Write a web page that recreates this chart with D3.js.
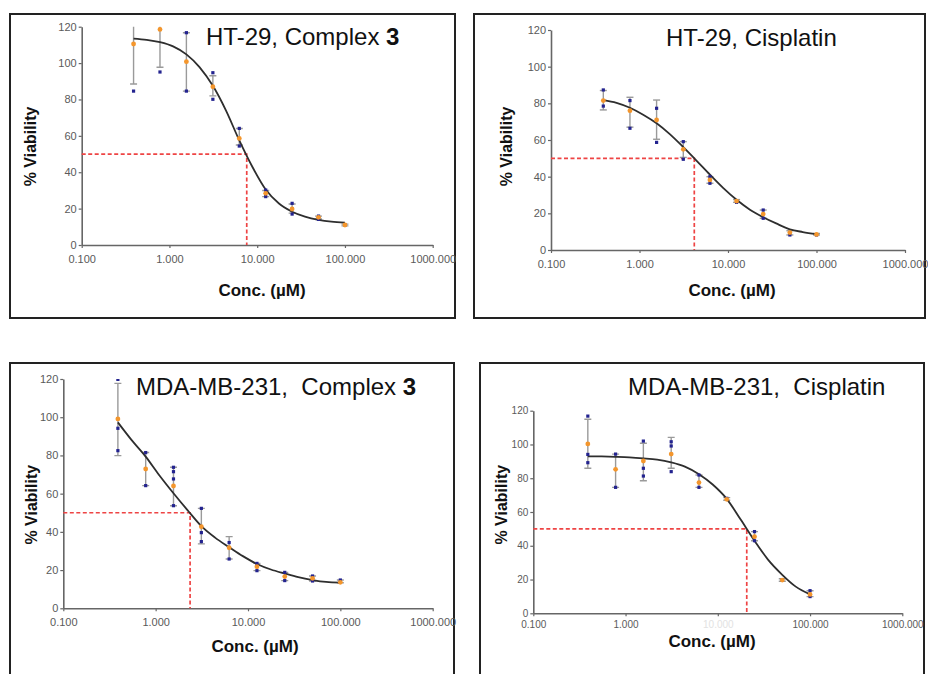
<!DOCTYPE html>
<html>
<head>
<meta charset="utf-8">
<script src="https://cdn.jsdelivr.net/npm/d3@7"></script>
<style>
  html, body { margin: 0; padding: 0; background: #fff; }
  svg { display: block; font-family: "Liberation Sans", Arial, sans-serif; }
</style>
</head>
<body>
<svg id="chart" width="928" height="674"></svg>
<script>
// ---------- shared data ----------
const concentrations = [0.39, 0.78, 1.56, 3.125, 6.25, 12.5, 25, 50, 100];
const fitConc = [0.39, 0.55, 0.78, 1.1, 1.56, 2.2, 3.125, 4.4, 6.25, 8.8, 12.5, 17.7, 25, 35, 50, 70, 100];
const xTicks = [0.1, 1, 10, 100, 1000];
const xTickLabels = ["0.100", "1.000", "10.000", "100.000", "1000.000"];
const yTicks = [0, 20, 40, 60, 80, 100, 120];
const yLabel = "% Viability";
const xLabel = "Conc. (\u00B5M)";

// ---------- HT-29, Complex 3 ----------
const meanA = [110.5, 118.5, 100.8, 87.0, 58.6, 28.4, 19.8, 15.2, 11.0];
const repsA = [[84.6], [95.1], [116.7, 84.6], [94.7, 80.1], [64.1, 54.4], [30.2, 26.6], [22.9, 17.0], [15.9, 14.1], [11.0]];
const errLoA = [88.5, 97.7, 84.6, 82.0, 55.0, 26.6, 17.5, 14.3, 10.5];
const errHiA = [132, 139, 116.7, 93.0, 64.0, 30.0, 22.5, 15.9, 11.5];
const curveA = [113.5, 112.8, 111.5, 109.2, 104.8, 97.8, 87.5, 74.0, 57.5, 43.0, 30.5, 22.8, 18.3, 15.6, 13.8, 12.8, 12.3];
const ic50A = 7.6;

// ---------- HT-29, Cisplatin ----------
const meanB = [81.5, 76.0, 70.9, 54.9, 38.2, 26.7, 19.6, 9.5, 8.5];
const repsB = [[87.3, 78.5], [81.5, 66.4], [77.3, 58.7], [59.1, 49.5], [40.0, 36.4], [26.0], [21.8, 17.3], [8.2], [8.2]];
const errLoB = [76.4, 67.0, 60.4, 50.5, 36.4, 26.0, 17.3, 8.2, 8.2];
const errHiB = [87.0, 83.3, 81.8, 59.1, 40.0, 27.5, 21.8, 10.5, 9.0];
const curveB = [81.8, 80.3, 77.6, 73.8, 69.1, 63.2, 56.1, 48.8, 41.1, 33.9, 27.4, 22.0, 17.9, 14.5, 11.3, 9.8, 8.6];
const ic50B = 4.16;

// ---------- MDA-MB-231, Complex 3 ----------
const meanC = [99.1, 72.9, 64.0, 42.7, 31.7, 21.8, 16.6, 15.7, 13.6];
const repsC = [[119.8, 94.2, 82.5], [81.5, 64.2], [73.8, 71.5, 67.7, 53.7], [52.3, 39.6, 34.9], [34.4, 25.8], [23.5, 19.7], [18.8, 14.5], [16.9, 14.3], [14.8, 13.6]];
const errLoC = [79.9, 64.2, 53.7, 33.7, 25.8, 19.7, 14.5, 14.3, 13.4];
const errHiC = [117.7, 81.5, 73.8, 52.3, 37.5, 23.5, 18.8, 16.9, 14.8];
const curveC = [97.3, 88.0, 79.4, 69.5, 60.2, 51.5, 43.0, 37.0, 32.0, 27.3, 23.2, 20.3, 18.2, 16.3, 14.8, 13.8, 13.4];
const ic50C = 2.36;

// ---------- MDA-MB-231, Cisplatin ----------
const meanD = [100.3, 85.3, 90.2, 94.3, 77.4, 67.5, 45.4, 19.7, 11.2];
const repsD = [[116.8, 94.1, 89.2], [94.3, 74.6], [102.0, 85.9, 81.3], [101.6, 99.1, 83.9], [81.9, 74.6], [68.1], [48.4, 43.0], [19.7], [13.4, 9.9]];
const errLoD = [85.9, 74.6, 78.5, 85.9, 74.6, 67.0, 43.0, 19.0, 9.9];
const errHiD = [114.9, 94.3, 100.7, 104.2, 81.9, 68.5, 48.4, 20.5, 13.4];
const curveD = [93.0, 92.9, 92.7, 92.4, 91.8, 91.0, 89.4, 86.9, 82.4, 76.3, 67.8, 55.5, 43.0, 31.8, 22.8, 15.8, 11.2];
const ic50D = 20.6;

// ---------- layout (page pixels) ----------
const panels = [
  { title: ["HT-29, Complex ", "3"], box: [10, 14, 445, 304],
    x: [81.7, 432.7], y: [245, 26.7], titleX: 206, titleY: 45,
    yLab: [30, 146.5], xLab: [262, 296], tickFont: 11, xPad: 7,
    mean: meanA, reps: repsA, lo: errLoA, hi: errHiA, curve: curveA, ic50: ic50A },
  { title: ["HT-29, Cisplatin"], box: [474, 14, 451, 304],
    x: [551, 905], y: [250, 30], titleX: 666, titleY: 46,
    yLab: [506.7, 146.5], xLab: [732, 296], tickFont: 11, xPad: 7,
    mean: meanB, reps: repsB, lo: errLoB, hi: errHiB, curve: curveB, ic50: ic50B },
  { title: ["MDA-MB-231,\u00A0 Complex ", "3"], box: [10, 363, 444, 340],
    x: [63.3, 432.7], y: [608.3, 379], titleX: 136, titleY: 395,
    yLab: [31.7, 504.7], xLab: [255, 651.7], tickFont: 11, xPad: 7,
    mean: meanC, reps: repsC, lo: errLoC, hi: errHiC, curve: curveC, ic50: ic50C },
  { title: ["MDA-MB-231,\u00A0 Cisplatin"], box: [480, 363, 444, 340],
    x: [533.3, 902.3], y: [613.3, 410.7], titleX: 628, titleY: 395,
    yLab: [501.7, 504.7], xLab: [712, 646.7], tickFont: 10, xPad: 5, faintTick: 10,
    mean: meanD, reps: repsD, lo: errLoD, hi: errHiD, curve: curveD, ic50: ic50D }
];

const svg = d3.select("#chart");
const defs = svg.append("defs");

panels.forEach((p, i) => {
  const g = svg.append("g");
  const xs = d3.scaleLog().domain([0.1, 1000]).range(p.x);
  const ys = d3.scaleLinear().domain([0, 120]).range(p.y);

  // frame
  g.append("rect")
    .attr("x", p.box[0]).attr("y", p.box[1])
    .attr("width", p.box[2]).attr("height", p.box[3])
    .attr("fill", "none").attr("stroke", "#222").attr("stroke-width", 2);

  // clip to plotting area
  const clipId = "clip" + i;
  defs.append("clipPath").attr("id", clipId)
    .append("rect")
    .attr("x", p.x[0] - 10).attr("y", p.y[1])
    .attr("width", p.x[1] - p.x[0] + 20).attr("height", p.y[0] - p.y[1] + 2);

  // axes
  const yAxis = d3.axisLeft(ys).tickValues(yTicks).tickSize(3).tickSizeOuter(0).tickPadding(2);
  const xAxis = d3.axisBottom(xs).tickValues(xTicks)
    .tickFormat((d, k) => xTickLabels[k]).tickSize(3).tickSizeOuter(0).tickPadding(p.xPad);

  const ya = g.append("g").attr("transform", `translate(${p.x[0]},0)`).call(yAxis);
  const xa = g.append("g").attr("transform", `translate(0,${p.y[0]})`).call(xAxis);
  [ya, xa].forEach(a => {
    a.select(".domain").attr("stroke", "#666").attr("stroke-width", 1.6);
    a.selectAll(".tick line").attr("stroke", "#666").attr("stroke-width", 1.2);
    a.selectAll(".tick text").attr("fill", "#5a5a5a")
      .attr("font-size", p.tickFont).attr("font-family", "\"Liberation Sans\", Arial, sans-serif");
  });
  if (p.faintTick) {
    xa.selectAll(".tick").filter(d => d === p.faintTick).select("text").attr("fill", "#e2e2e2");
  }

  // IC50 guide lines
  g.append("path")
    .attr("d", `M${xs(0.1)},${ys(50)}H${xs(p.ic50)}V${ys(0)}`)
    .attr("fill", "none").attr("stroke", "#ee4444").attr("stroke-width", 1.7)
    .attr("stroke-dasharray", "4,2.5");

  const plot = g.append("g").attr("clip-path", `url(#${clipId})`);

  // error bars
  const cap = 3.5;
  concentrations.forEach((c, k) => {
    const cx = xs(c);
    const bar = plot.append("g").attr("stroke", "#9a9a9a").attr("stroke-width", 1.4);
    bar.append("line").attr("x1", cx).attr("x2", cx).attr("y1", ys(p.lo[k])).attr("y2", ys(p.hi[k]));
    bar.append("line").attr("x1", cx - cap).attr("x2", cx + cap).attr("y1", ys(p.lo[k])).attr("y2", ys(p.lo[k]));
    bar.append("line").attr("x1", cx - cap).attr("x2", cx + cap).attr("y1", ys(p.hi[k])).attr("y2", ys(p.hi[k]));
  });

  // fitted curve
  const line = d3.line()
    .x((d, k) => xs(fitConc[k]))
    .y(d => ys(d))
    .curve(d3.curveMonotoneX);
  plot.append("path").datum(p.curve)
    .attr("d", line)
    .attr("fill", "none").attr("stroke", "#2e2e2e").attr("stroke-width", 1.8);

  // replicate points (blue)
  concentrations.forEach((c, k) => {
    p.reps[k].forEach(v => {
      plot.append("rect")
        .attr("x", xs(c) - 1.6).attr("y", ys(v) - 1.6)
        .attr("width", 3.2).attr("height", 3.2)
        .attr("fill", "#23238f");
    });
  });

  // mean points (orange)
  plot.selectAll("circle.mean").data(p.mean).enter().append("circle")
    .attr("class", "mean")
    .attr("cx", (d, k) => xs(concentrations[k]))
    .attr("cy", d => ys(d))
    .attr("r", 2.4)
    .attr("fill", "#f4962c");

  // title
  const t = g.append("text")
    .attr("x", p.titleX).attr("y", p.titleY)
    .attr("font-size", 24).attr("fill", "#111");
  t.append("tspan").text(p.title[0]);
  if (p.title[1]) t.append("tspan").attr("font-weight", "bold").text(p.title[1]);

  // axis titles
  g.append("text")
    .attr("transform", `translate(${p.yLab[0]},${p.yLab[1]}) rotate(-90)`)
    .attr("text-anchor", "middle").attr("dominant-baseline", "central")
    .attr("font-size", 16).attr("font-weight", "bold").attr("fill", "#111")
    .text(yLabel);
  g.append("text")
    .attr("x", p.xLab[0]).attr("y", p.xLab[1])
    .attr("text-anchor", "middle")
    .attr("font-size", 17).attr("font-weight", "bold").attr("fill", "#111")
    .text(xLabel);
});
</script>
</body>
</html>
